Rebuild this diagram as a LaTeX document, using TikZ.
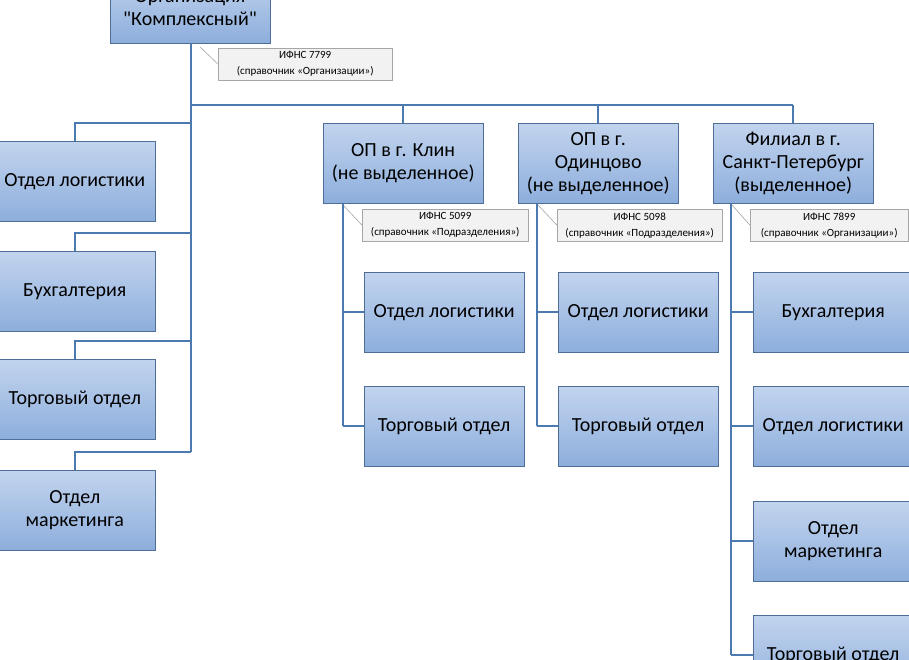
\documentclass[tikz,border=0pt]{standalone}
\usepackage{fontspec}
\setmainfont{Carlito}
\usetikzlibrary{positioning}
\definecolor{boxtop}{HTML}{C2D4EE}
\definecolor{boxbot}{HTML}{8DAEDC}
\definecolor{boxline}{HTML}{4E6E98}
\definecolor{wire}{HTML}{4A7AB0}
\definecolor{notefill}{HTML}{F2F2F2}
\tikzset{
  unit/.style={draw=boxline, top color=boxtop, bottom color=boxbot, minimum width=160pt,
    minimum height=80pt, align=center, inner sep=1pt, font=\fontsize{20}{23}\selectfont},
  note/.style={draw=gray!70, fill=notefill, minimum height=32pt, align=center,
    inner sep=2pt, font=\fontsize{11}{16}\selectfont},
  wire/.style={draw=wire, line width=2pt},
  pointer/.style={draw=gray!70, line width=0.6pt}
}
\begin{document}
\begin{tikzpicture}[x=1pt,y=-1pt]
\useasboundingbox (0,0) rectangle (909,659);
\clip (0,0) rectangle (909,659);
% head
\node [unit, minimum height=70pt, anchor=south] at (190,43) (head) {Организация\\\textquotedbl Комплексный\textquotedbl};
\node [note, minimum width=174pt, anchor=north west] at (218,48) (n7799) {ИФНС 7799\\(справочник «Организации»)};
\draw [pointer] (200,47) -- (n7799.west);
% left departments
\node [unit, anchor=north east] at (155,141) (l1) {Отдел логистики};
\node [unit, anchor=north east] at (155,251) (l2) {Бухгалтерия};
\node [unit, anchor=north east] at (155,359) (l3) {Торговый отдел};
\node [unit, anchor=north east] at (155,470) (l4) {Отдел\\маркетинга};
\coordinate (trunk) at (191,452);
\draw [wire] (head.south -| trunk) -- (trunk);
\foreach \n/\y in {l1/123,l2/233,l3/341,l4/452}
  \draw [wire] (191,\y) -- (75,\y) -- (75,\y |- \n.north);
% branches
\node [unit, anchor=north west] at (323,123) (klin) {ОП в г. Клин\\(не выделенное)};
\node [unit, anchor=north west] at (518,123) (odin) {ОП в г.\\Одинцово\\(не выделенное)};
\node [unit, anchor=north west] at (713,123) (spb) {Филиал в г.\\Санкт-Петербург\\(выделенное)};
\draw [wire] (191,105) -- (793,105);
\foreach \n in {klin,odin,spb}
  \draw [wire] (\n.north |- 0,105) -- (\n.north);
% notes
\node [note, minimum width=166pt, anchor=north west] at (362,209) (n5099) {ИФНС 5099\\(справочник «Подразделения»)};
\node [note, minimum width=165pt, anchor=north west] at (557,209) (n5098) {ИФНС 5098\\(справочник «Подразделения»)};
\node [note, minimum width=158pt, anchor=north west] at (750,209) (n7899) {ИФНС 7899\\(справочник «Организации»)};
\draw [pointer] (343,205) -- (n5099.west);
\draw [pointer] (538,205) -- (n5098.west);
\draw [pointer] (732,205) -- (n7899.west);
% children
\node [unit, anchor=north west] at (364,272) (k1) {Отдел логистики};
\node [unit, anchor=north west] at (364,386) (k2) {Торговый отдел};
\node [unit, anchor=north west] at (558,272) (o1) {Отдел логистики};
\node [unit, anchor=north west] at (558,386) (o2) {Торговый отдел};
\node [unit, anchor=north west] at (753,272) (s1) {Бухгалтерия};
\node [unit, anchor=north west] at (753,386) (s2) {Отдел логистики};
\node [unit, anchor=north west] at (753,501) (s3) {Отдел\\маркетинга};
\node [unit, anchor=north west] at (753,615) (s4) {Торговый отдел};
\draw [wire] (343,204) -- (343,426);
\draw [wire] (537,204) -- (537,426);
\draw [wire] (731,204) -- (731,655);
\foreach \n in {k1,k2} \draw [wire] (343,0 |- \n.west) -- (\n.west);
\foreach \n in {o1,o2} \draw [wire] (537,0 |- \n.west) -- (\n.west);
\foreach \n in {s1,s2,s3,s4} \draw [wire] (731,0 |- \n.west) -- (\n.west);
\end{tikzpicture}
\end{document}
